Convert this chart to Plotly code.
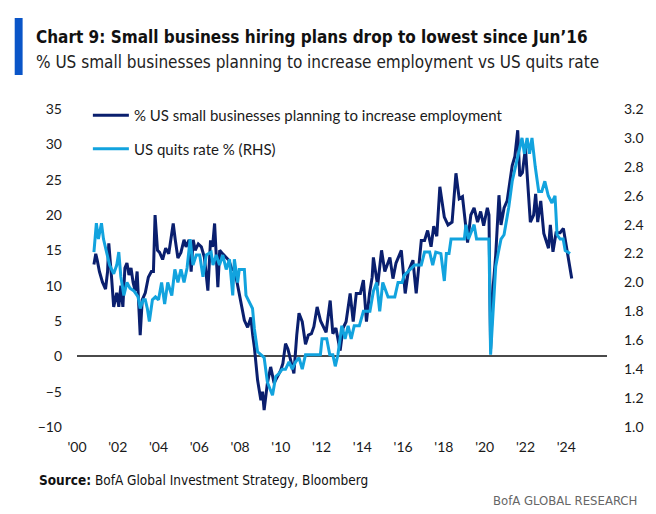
import plotly.graph_objects as go

# ---- data ----
biz_x = [2000.83, 2000.92, 2001.0, 2001.1, 2001.25, 2001.4, 2001.5, 2001.56, 2001.7, 2001.8, 2001.95,
         2002.05, 2002.15, 2002.25, 2002.35, 2002.45, 2002.55, 2002.65, 2002.75, 2002.85, 2002.95,
         2003.1, 2003.2, 2003.35, 2003.5, 2003.65, 2003.75, 2003.83, 2003.95, 2004.05, 2004.2,
         2004.35, 2004.5, 2004.72, 2004.82, 2004.95, 2005.1, 2005.25, 2005.35, 2005.5, 2005.6,
         2005.7, 2005.8, 2005.95, 2006.1, 2006.25, 2006.42, 2006.55, 2006.65, 2006.75, 2006.91,
         2007.0, 2007.15, 2007.3, 2007.45, 2007.6, 2007.72, 2007.85, 2007.96, 2008.08, 2008.21,
         2008.37, 2008.53, 2008.62, 2008.7, 2008.86, 2009.02, 2009.1, 2009.18, 2009.34, 2009.5,
         2009.67, 2009.8, 2009.99, 2010.1, 2010.23, 2010.35, 2010.5, 2010.64, 2010.78, 2010.89,
         2011.05, 2011.21, 2011.35, 2011.5, 2011.62, 2011.78, 2011.95, 2012.1, 2012.22, 2012.42,
         2012.55, 2012.7, 2012.91, 2013.05, 2013.2, 2013.4, 2013.55, 2013.7, 2013.9, 2014.05,
         2014.2, 2014.35, 2014.48, 2014.54, 2014.75, 2014.94, 2015.1, 2015.35, 2015.5, 2015.65,
         2015.91, 2016.1, 2016.25, 2016.48, 2016.64, 2016.89, 2017.05, 2017.2, 2017.37, 2017.5,
         2017.65, 2017.8, 2018.02, 2018.2, 2018.4, 2018.59, 2018.75, 2018.91, 2019.08, 2019.16,
         2019.32, 2019.48, 2019.65, 2019.8, 2019.95, 2020.13, 2020.21, 2020.29, 2020.42, 2020.54,
         2020.7, 2020.8, 2020.95, 2021.1, 2021.35, 2021.48, 2021.62, 2021.72, 2021.85, 2022.0,
         2022.1, 2022.24, 2022.4, 2022.5, 2022.6, 2022.75, 2022.9, 2023.13, 2023.22, 2023.35,
         2023.5, 2023.7, 2023.86, 2023.96, 2024.1, 2024.27]
biz_y = [13.0, 14.5, 13.5, 12.0, 10.5, 9.5, 12.0, 16.0, 11.0, 7.0, 9.0,
         7.0, 10.0, 7.0, 12.5, 13.2, 11.5, 12.5, 10.5, 9.3, 12.0,
         3.0, 8.0, 9.0, 11.2, 12.0, 12.0, 20.0, 15.0, 14.7, 13.7,
         15.3, 14.5, 18.8, 16.5, 13.9, 14.7, 16.5, 15.5, 16.5, 12.0,
         16.5, 15.0, 15.9, 15.5, 14.0, 9.3, 16.4, 15.5, 18.8, 9.8,
         15.0, 14.5, 14.0, 13.6, 12.3, 12.3, 10.5, 8.9, 7.5, 5.1,
         4.1, 5.5, 3.0, 1.3, -3.4, -6.2, -5.0, -7.6, -3.8, -1.5,
         -3.8, -3.0, -2.0, -1.0, 1.8, 1.0, -1.0, -2.4, 3.0, 6.1,
         4.9, 1.7, 3.0, 3.2, 4.2, 7.0, 5.0, 4.0, 3.4, 7.9,
         3.2, 4.0, 0.8, 4.0, 4.9, 8.9, 4.9, 8.9, 8.9, 10.8,
         4.9, 8.9, 11.2, 14.0, 10.0, 15.0, 12.0, 14.0, 11.0, 13.2,
         15.0, 8.9, 12.0, 13.6, 8.9, 16.4, 16.4, 17.8, 15.5, 18.4,
         17.0, 24.0, 19.7, 18.6, 19.0, 25.9, 22.3, 22.6, 18.6, 16.1,
         20.0, 21.0, 19.0, 20.5, 18.5, 21.0, 20.0, 1.0, 10.0, 14.3,
         22.8, 18.6, 21.0, 22.0, 27.0, 28.3, 32.0, 25.5, 26.0, 29.5,
         25.0, 19.0, 20.0, 23.0, 19.0, 22.0, 17.4, 15.3, 18.6, 14.8,
         17.5, 17.5, 18.1, 16.4, 13.6, 11.0]

quits_x = [2000.83, 2000.95, 2001.05, 2001.2, 2001.3, 2001.45, 2001.6, 2001.8, 2001.95, 2002.05,
           2002.15, 2002.3, 2002.45, 2002.6, 2002.8, 2003.0, 2003.1, 2003.25, 2003.35, 2003.45,
           2003.55, 2003.7, 2003.85, 2004.0, 2004.15, 2004.3, 2004.45, 2004.65, 2004.8, 2004.95,
           2005.1, 2005.25, 2005.4, 2005.55, 2005.69, 2005.85, 2006.02, 2006.18, 2006.34, 2006.58,
           2006.67, 2006.83, 2006.99, 2007.15, 2007.32, 2007.48, 2007.64, 2007.72, 2007.88, 2007.96,
           2008.21, 2008.29, 2008.45, 2008.61, 2008.7, 2008.86, 2009.02, 2009.18, 2009.34, 2009.59,
           2009.75, 2009.91, 2010.07, 2010.23, 2010.4, 2010.56, 2010.72, 2010.89, 2011.05, 2011.21,
           2011.94, 2012.02, 2012.25, 2012.4, 2012.55, 2012.67, 2012.8, 2012.99, 2013.15, 2013.3,
           2013.45, 2013.6, 2013.85, 2014.05, 2014.37, 2014.54, 2014.7, 2014.85, 2015.0, 2015.26,
           2015.59, 2015.75, 2015.95, 2016.05, 2016.2, 2016.56, 2016.89, 2017.05, 2017.3, 2017.45,
           2017.6, 2017.85, 2018.02, 2018.12, 2018.25, 2018.35, 2019.0, 2019.08, 2019.2, 2019.48,
           2019.6, 2020.21, 2020.29, 2020.54, 2020.66, 2020.8, 2020.95, 2021.18, 2021.35, 2021.5,
           2021.65, 2021.83, 2021.95, 2022.08, 2022.2, 2022.32, 2022.48, 2022.65, 2022.8, 2022.95,
           2023.12, 2023.3, 2023.45, 2023.55, 2023.7, 2023.85, 2023.95, 2024.19]
quits_y = [2.21, 2.41, 2.30, 2.41, 2.30, 2.20, 2.12, 2.06, 2.12, 2.21,
           2.04, 1.91, 2.00, 1.96, 1.94, 1.90, 1.82, 1.88, 1.88, 1.82,
           1.73, 1.88, 1.90, 1.88, 2.00, 1.85, 2.00, 1.91, 2.09, 2.00,
           2.09, 2.00, 2.10, 2.30, 2.12, 2.19, 2.19, 2.04, 2.19, 2.21,
           2.12, 2.19, 2.12, 2.19, 2.09, 2.16, 1.91, 2.16, 2.00, 2.09,
           2.09, 1.91, 1.87, 1.82, 1.68, 1.52, 1.50, 1.48, 1.31, 1.22,
           1.35, 1.37, 1.40, 1.40, 1.45, 1.40, 1.45, 1.48, 1.40, 1.50,
           1.50, 1.61, 1.61, 1.50, 1.50, 1.42, 1.50, 1.70, 1.61, 1.70,
           1.61, 1.70, 1.70, 1.80, 1.80, 1.94, 2.00, 1.80, 2.00, 1.90,
           1.90, 2.00, 2.00, 2.05, 2.07, 2.12, 2.12, 2.21, 2.21, 2.12,
           2.21, 2.20, 2.01, 2.20, 2.20, 2.30, 2.30, 2.40, 2.30, 2.40,
           2.30, 2.30, 1.50, 2.11, 2.20, 2.30, 2.33, 2.52, 2.70, 2.80,
           2.89, 3.00, 2.89, 3.00, 2.89, 3.00, 2.80, 2.63, 2.63, 2.70,
           2.60, 2.55, 2.60, 2.33, 2.30, 2.30, 2.22, 2.20]

x_tickvals = [2000, 2002, 2004, 2006, 2008, 2010, 2012, 2014, 2016, 2018, 2020, 2022, 2024]
x_ticktext = ["'00", "'02", "'04", "'06", "'08", "'10", "'12", "'14", "'16", "'18", "'20", "'22", "'24"]
y_left_ticks = [-10, -5, 0, 5, 10, 15, 20, 25, 30, 35]
y_right_ticks = [1.0, 1.2, 1.4, 1.6, 1.8, 2.0, 2.2, 2.4, 2.6, 2.8, 3.0, 3.2]

name_biz = "% US small businesses planning to increase employment"
name_quits = "US quits rate % (RHS)"
title_text = "Chart 9: Small business hiring plans drop to lowest since Jun\u201916"
subtitle_text = "% US small businesses planning to increase employment vs US quits rate"
source_text = "<b>Source:</b> BofA Global Investment Strategy, Bloomberg"
brand_text = "BofA GLOBAL RESEARCH"

NAVY = "#0a1f6e"
CYAN = "#12a3de"
TXT = "#1a1a1a"
FONT = "DejaVu Sans Condensed, Roboto, sans-serif"
TICKFONT = "Lato, Open Sans, sans-serif"

fig = go.Figure()
fig.add_trace(go.Scatter(x=biz_x, y=biz_y, name=name_biz, mode="lines",
                         line=dict(color=NAVY, width=3), yaxis="y", legendgroup="a"))
fig.add_trace(go.Scatter(x=quits_x, y=quits_y, name=name_quits, mode="lines",
                         line=dict(color=CYAN, width=3), yaxis="y2", legendgroup="b"))

L, R, T, B = 77, 43, 109, 87
W, H = 656, 514
pw, ph = W - L - R, H - T - B

def px(x):
    return (x - L) / pw

def py(y):
    return (H - B - y) / ph

fig.update_layout(
    width=W, height=H,
    margin=dict(l=L, r=R, t=T, b=B),
    paper_bgcolor="white", plot_bgcolor="white",
    showlegend=True,
    legend=dict(x=px(88), y=py(99), xanchor="left", yanchor="top",
                bgcolor="rgba(0,0,0,0)", font=dict(family=TICKFONT, size=15, color=TXT),
                tracegroupgap=11, itemwidth=36),
    xaxis=dict(range=[2000, 2026], tickvals=x_tickvals, ticktext=x_ticktext,
               showgrid=False, zeroline=False, showline=False, ticks="",
               tickfont=dict(family=TICKFONT, size=14, color=TXT), ticklabelstandoff=10),
    yaxis=dict(range=[-10, 35], tickvals=y_left_ticks, showgrid=False,
               zeroline=True, zerolinecolor="#4a4a4a", zerolinewidth=1.5,
               showline=False, ticks="",
               tickfont=dict(family=TICKFONT, size=14, color=TXT), ticklabelstandoff=14),
    yaxis2=dict(range=[1.0, 3.2], tickvals=y_right_ticks, tickformat=".1f",
                overlaying="y", side="right", showgrid=False, zeroline=False,
                showline=False, ticks="",
                tickfont=dict(family=TICKFONT, size=14, color=TXT), ticklabelstandoff=16),
)

fig.add_shape(type="rect", xref="paper", yref="paper",
              x0=px(14), x1=px(22), y0=py(75), y1=py(18),
              fillcolor="#0a55c8", line=dict(width=0))

fig.add_annotation(text="<b>" + title_text + "</b>", xref="paper", yref="paper",
                   x=px(34), y=py(37), xanchor="left", yanchor="middle", showarrow=False,
                   font=dict(family=FONT, size=17, color="#111111"))
fig.add_annotation(text=subtitle_text, xref="paper", yref="paper",
                   x=px(34), y=py(62), xanchor="left", yanchor="middle", showarrow=False,
                   font=dict(family=FONT, size=17, color="#222222"))
fig.add_annotation(text=source_text, xref="paper", yref="paper",
                   x=px(37), y=py(480), xanchor="left", yanchor="middle", showarrow=False,
                   font=dict(family=FONT, size=13.5, color="#111111"))
fig.add_annotation(text=brand_text, xref="paper", yref="paper",
                   x=px(645), y=py(500), xanchor="right", yanchor="middle", showarrow=False,
                   font=dict(family=FONT, size=13, color="#666666"))

fig.write_html("out.html")
